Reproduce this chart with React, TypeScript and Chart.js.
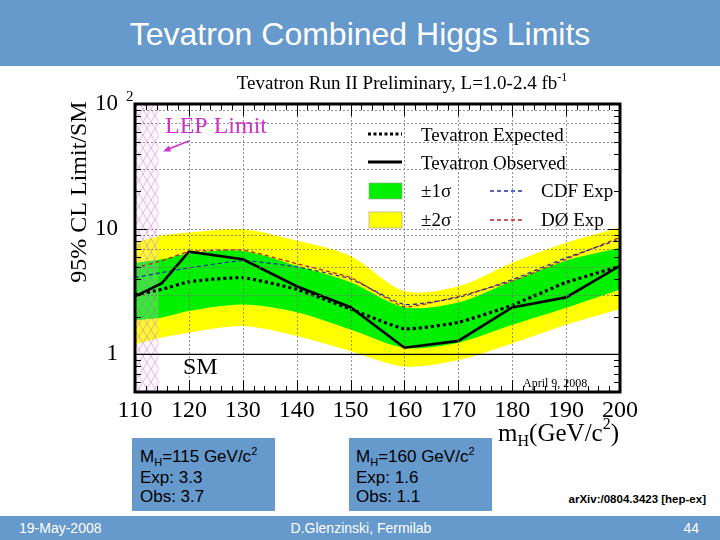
import React, { useEffect, useRef } from 'react';
import { Chart, registerables } from 'chart.js';

Chart.register(...registerables);

// ---------- data ----------
const massPoints = [110, 115, 120, 130, 140, 150, 160, 170, 180, 190, 200];
const observedLimit = [2.9, 3.7, 6.6, 5.75, 3.5, 2.38, 1.13, 1.28, 2.37, 2.85, 5.1];
const expectedLimit = [3.0, 3.3, 3.8, 4.1, 3.3, 2.3, 1.6, 1.8, 2.47, 3.75, 5.05];
const cdfExpected = [4.1, 4.5, 4.9, 5.6, 5.0, 4.0, 2.5, 2.85, 3.95, 5.9, 8.3];
const d0Expected = [4.9, 5.6, 6.6, 6.8, 5.3, 4.1, 2.4, 2.9, 3.85, 5.75, 8.6];
const sigma1Upper = [5.4, 5.75, 6.4, 6.7, 5.1, 3.76, 2.38, 2.6, 3.86, 5.6, 7.1];
const sigma1Lower = [1.87, 1.97, 2.22, 2.5, 2.17, 1.58, 1.13, 1.24, 1.72, 2.36, 3.3];
const sigma2Upper = [7.8, 8.9, 9.4, 10, 8.1, 6.1, 3.2, 3.5, 5.4, 7.8, 10.3];
const sigma2Lower = [1.2, 1.36, 1.49, 1.68, 1.4, 1.06, 0.8, 0.9, 1.22, 1.72, 2.3];
const smLevel = 1;
const lepLimit = 114.4;
const xTickValues = [110, 120, 130, 140, 150, 160, 170, 180, 190, 200];
const yTickValues = [1, 10, 100];
const yGridValues = [3, 5, 7, 9, 10, 30, 50, 70, 90];

const BLUE = '#6699CC';
const SERIF = '"Liberation Serif", "Times New Roman", serif';

const pts = (vals: number[]) => massPoints.map((x, i) => ({ x, y: vals[i] }));

function line(ctx: any, x0: number, y0: number, x1: number, y1: number) {
  ctx.beginPath();
  ctx.moveTo(x0, y0);
  ctx.lineTo(x1, y1);
  ctx.stroke();
}

function drawParts(ctx: any, parts: any[], x: number, baseline: number, align: 'left' | 'right' | 'center') {
  let total = 0;
  parts.forEach((p) => {
    ctx.font = p.f;
    p.w = ctx.measureText(p.t).width;
    total += p.w;
  });
  let cx = align === 'left' ? x : align === 'right' ? x - total : x - total / 2;
  ctx.textAlign = 'left';
  ctx.textBaseline = 'alphabetic';
  parts.forEach((p) => {
    ctx.font = p.f;
    ctx.fillText(p.t, cx, baseline + p.dy);
    cx += p.w;
  });
}

function drawLep(chart: any) {
  const { ctx, chartArea: a, scales } = chart;
  const x0 = scales.x.getPixelForValue(110);
  const x1 = scales.x.getPixelForValue(lepLimit);
  ctx.save();
  ctx.beginPath();
  ctx.rect(x0, a.top, x1 - x0, a.bottom - a.top);
  ctx.clip();
  ctx.fillStyle = 'rgba(250,215,250,0.2)';
  ctx.fillRect(x0, a.top, x1 - x0, a.bottom - a.top);
  ctx.strokeStyle = 'rgba(200,100,200,0.6)';
  ctx.lineWidth = 0.7;
  const w = 8, h = 13;
  for (let y = a.top - 60; y < a.bottom + 60; y += h) {
    line(ctx, x0, y, x0 + 4 * w, y + 4 * h);
    line(ctx, x0, y, x0 + 4 * w, y - 4 * h);
  }
  ctx.restore();
}

const decorPlugin = {
  id: 'decor',
  beforeDatasetDraw(chart: any, args: any) {
    if (args.index === 4) drawLep(chart);
  },
  afterDatasetsDraw(chart: any) {
    const { ctx, chartArea: a, scales } = chart;
    const xs = scales.x, ys = scales.y;
    ctx.save();
    // grid
    ctx.strokeStyle = '#777';
    ctx.lineWidth = 0.8;
    ctx.setLineDash([2, 2]);
    xTickValues.slice(1, -1).forEach((v) => {
      const px = Math.round(xs.getPixelForValue(v)) + 0.5;
      line(ctx, px, a.top, px, a.bottom);
    });
    yGridValues.forEach((v) => {
      const py = Math.round(ys.getPixelForValue(v)) + 0.5;
      line(ctx, a.left, py, a.right, py);
    });
    ctx.setLineDash([]);
    // ticks
    ctx.strokeStyle = '#000';
    ctx.lineWidth = 1;
    for (let v = 110; v <= 200; v += 2) {
      const px = Math.round(xs.getPixelForValue(v)) + 0.5;
      const len = v % 10 === 0 ? 12 : 6;
      line(ctx, px, a.bottom, px, a.bottom - len);
      line(ctx, px, a.top, px, a.top + len);
    }
    for (let e = -1; e <= 1; e++) {
      for (let m = 1; m <= 9; m++) {
        const v = m * Math.pow(10, e);
        if (v < 0.5 || v > 100) continue;
        const py = Math.round(ys.getPixelForValue(v)) + 0.5;
        const len = m === 1 ? 12 : 6;
        line(ctx, a.left, py, a.left + len, py);
        line(ctx, a.right, py, a.right - len, py);
      }
    }
    // frame
    ctx.lineWidth = 3;
    ctx.strokeRect(a.left, a.top, a.right - a.left, a.bottom - a.top);

    // superscript of 10^2 tick label
    ctx.fillStyle = '#000';
    ctx.font = '15px ' + SERIF;
    ctx.textAlign = 'left';
    ctx.textBaseline = 'alphabetic';
    ctx.fillText('2', a.left - 9, ys.getPixelForValue(100) - 3);

    // title
    ctx.fillStyle = '#000';
    drawParts(ctx, [
      { t: 'Tevatron Run II Preliminary, L=1.0-2.4 fb', f: '19px ' + SERIF, dy: 0 },
      { t: '-1', f: '12px ' + SERIF, dy: -8 },
    ], a.left + 267, 89, 'center');

    // y title
    ctx.save();
    ctx.translate(80, a.top + 88);
    ctx.rotate(-Math.PI / 2);
    ctx.font = '24px ' + SERIF;
    ctx.textAlign = 'center';
    ctx.textBaseline = 'middle';
    ctx.fillText('95% CL Limit/SM', 0, 0);
    ctx.restore();

    // x title
    drawParts(ctx, [
      { t: 'm', f: '25px ' + SERIF, dy: 0 },
      { t: 'H', f: '16px ' + SERIF, dy: 5 },
      { t: '(GeV/c', f: '25px ' + SERIF, dy: 0 },
      { t: '2', f: '16px ' + SERIF, dy: -12 },
      { t: ')', f: '25px ' + SERIF, dy: 0 },
    ], a.right - 1, 441, 'right');

    // legend
    const L = a.left, T = a.top;
    ctx.font = '19px ' + SERIF;
    ctx.textAlign = 'left';
    ctx.textBaseline = 'middle';
    ctx.strokeStyle = '#000';
    ctx.lineWidth = 3;
    ctx.setLineDash([3, 2.5]);
    line(ctx, L + 233, T + 30, L + 267, T + 30);
    ctx.setLineDash([]);
    line(ctx, L + 233, T + 58, L + 267, T + 58);
    ctx.fillText('Tevatron Expected', L + 286, T + 32);
    ctx.fillText('Tevatron Observed', L + 286, T + 60);
    ctx.fillStyle = '#00F000';
    ctx.fillRect(L + 234, T + 79, 33, 16);
    ctx.fillStyle = '#FFFF00';
    ctx.fillRect(L + 234, T + 108, 33, 16);
    ctx.lineWidth = 0.6;
    ctx.strokeStyle = '#999';
    ctx.strokeRect(L + 234, T + 79, 33, 16);
    ctx.strokeRect(L + 234, T + 108, 33, 16);
    ctx.fillStyle = '#000';
    ctx.fillText('\u00B11\u03C3', L + 286, T + 88);
    ctx.fillText('\u00B12\u03C3', L + 286, T + 117);
    ctx.lineWidth = 1.3;
    ctx.setLineDash([4, 3]);
    ctx.strokeStyle = '#2233AA';
    line(ctx, L + 355, T + 87, L + 388, T + 87);
    ctx.strokeStyle = '#BB2222';
    line(ctx, L + 355, T + 116, L + 388, T + 116);
    ctx.setLineDash([]);
    ctx.fillText('CDF Exp', L + 406, T + 88);
    ctx.fillText('D\u00D8 Exp', L + 406, T + 117);

    // LEP label + arrow
    ctx.fillStyle = '#CC33CC';
    ctx.strokeStyle = '#CC33CC';
    ctx.font = '24px ' + SERIF;
    ctx.textBaseline = 'middle';
    ctx.fillText('LEP Limit', 165, 127);
    ctx.lineWidth = 1.5;
    line(ctx, 189, 141, 166, 150);
    ctx.beginPath();
    ctx.moveTo(163, 151.5);
    ctx.lineTo(169, 145.5);
    ctx.lineTo(171, 151.5);
    ctx.closePath();
    ctx.fill();

    // SM label
    ctx.fillStyle = '#000';
    ctx.font = '24px ' + SERIF;
    ctx.fillText('SM', 183, 368);
    // date
    ctx.font = '12px ' + SERIF;
    ctx.fillText('April 9, 2008', 523, 384);
    ctx.restore();
  },
};

export default function App() {
  const ref = useRef<HTMLCanvasElement>(null);
  useEffect(() => {
    document.body.style.margin = '0';
    const base = { pointRadius: 0, pointHoverRadius: 0, spanGaps: true };
    const chart = new Chart(ref.current as HTMLCanvasElement, {
      type: 'line',
      data: {
        datasets: [
          { ...base, label: '±2σ', data: pts(sigma2Upper), borderColor: 'transparent', borderWidth: 0, backgroundColor: '#FFFF00', fill: '+1', tension: 0.3, order: 6 },
          { ...base, label: '±2σ low', data: pts(sigma2Lower), borderColor: 'transparent', borderWidth: 0, fill: false, tension: 0.3, order: 6 },
          { ...base, label: '±1σ', data: pts(sigma1Upper), borderColor: 'transparent', borderWidth: 0, backgroundColor: '#00F000', fill: '+1', tension: 0.3, order: 5 },
          { ...base, label: '±1σ low', data: pts(sigma1Lower), borderColor: 'transparent', borderWidth: 0, fill: false, tension: 0.3, order: 5 },
          { ...base, label: 'DØ Exp', data: pts(d0Expected), borderColor: '#BB2222', borderWidth: 1.3, borderDash: [4, 3], fill: false, tension: 0.15, order: 4 },
          { ...base, label: 'CDF Exp', data: pts(cdfExpected), borderColor: '#2233AA', borderWidth: 1.3, borderDash: [4, 3], fill: false, tension: 0.15, order: 3 },
          { ...base, label: 'Tevatron Expected', data: pts(expectedLimit), borderColor: '#000', borderWidth: 3.2, borderDash: [3, 3], fill: false, tension: 0.15, order: 2 },
          { ...base, label: 'Tevatron Observed', data: pts(observedLimit), borderColor: '#000', borderWidth: 2.6, fill: false, tension: 0, order: 1 },
          { ...base, label: 'SM', data: [{ x: 110, y: smLevel }, { x: 200, y: smLevel }], borderColor: '#000', borderWidth: 1.3, fill: false, order: 0 },
        ],
      },
      options: {
        responsive: false,
        animation: false,
        devicePixelRatio: 1,
        events: [],
        layout: { padding: { left: 60, right: 100, top: 104, bottom: 108 } },
        plugins: { legend: { display: false }, tooltip: { enabled: false }, title: { display: false } },
        scales: {
          x: {
            type: 'linear',
            min: 110,
            max: 200,
            afterBuildTicks: (s: any) => { s.ticks = xTickValues.map((v) => ({ value: v })); },
            afterFit: (s: any) => { s.height = 40; },
            grid: { display: false, drawTicks: false },
            border: { display: false },
            ticks: { color: '#000', font: { family: SERIF, size: 24 }, padding: 4, maxRotation: 0, autoSkip: false },
          },
          y: {
            type: 'logarithmic',
            min: 0.5,
            max: 100,
            afterBuildTicks: (s: any) => { s.ticks = yTickValues.map((v) => ({ value: v })); },
            afterFit: (s: any) => { s.width = 75; },
            grid: { display: false, drawTicks: false },
            border: { display: false },
            ticks: {
              color: '#000',
              font: { family: SERIF, size: 23 },
              padding: 17,
              autoSkip: false,
              callback: (v: any) => (Number(v) === 100 ? '10' : String(v)),
            },
          },
        },
      } as any,
      plugins: [decorPlugin],
    });
    return () => chart.destroy();
  }, []);

  const boxText = { position: 'absolute' as const, fontSize: 17, lineHeight: '20px', color: '#000', whiteSpace: 'nowrap' as const };
  const sub = { fontSize: 11, position: 'relative' as const, top: 4 };
  const sup = { fontSize: 11, position: 'relative' as const, top: -7 };
  const foot = { position: 'absolute' as const, top: 520, fontSize: 14, lineHeight: '16px', color: '#fff' };

  return (
    <div style={{ position: 'relative', width: 720, height: 540, background: '#fff', overflow: 'hidden', fontFamily: '"Liberation Sans", Arial, sans-serif' }}>
      <div style={{ position: 'absolute', left: 0, top: 0, width: 720, height: 66, background: BLUE }} />
      <div style={{ position: 'absolute', left: 0, top: 15, width: 720, textAlign: 'center', color: '#fff', fontSize: 32, lineHeight: '38px' }}>
        Tevatron Combined Higgs Limits
      </div>

      <div style={{ position: 'absolute', left: 132, top: 438, width: 143, height: 73, background: BLUE }} />
      <div style={{ ...boxText, left: 140, top: 447 }}>M<span style={sub}>H</span>=115 GeV/c<span style={sup}>2</span></div>
      <div style={{ ...boxText, left: 140, top: 468 }}>Exp: 3.3</div>
      <div style={{ ...boxText, left: 140, top: 487 }}>Obs: 3.7</div>

      <div style={{ position: 'absolute', left: 349, top: 438, width: 143, height: 73, background: BLUE }} />
      <div style={{ ...boxText, left: 356, top: 447 }}>M<span style={sub}>H</span>=160 GeV/c<span style={sup}>2</span></div>
      <div style={{ ...boxText, left: 356, top: 468 }}>Exp: 1.6</div>
      <div style={{ ...boxText, left: 356, top: 487 }}>Obs: 1.1</div>

      <div style={{ position: 'absolute', right: 14, top: 491, fontSize: 11.5, fontWeight: 'bold', lineHeight: '16px', color: '#000' }}>
        arXiv:/0804.3423 [hep-ex]
      </div>

      <div style={{ position: 'absolute', left: 0, top: 516, width: 720, height: 24, background: BLUE }} />
      <div style={{ ...foot, left: 19 }}>19-May-2008</div>
      <div style={{ ...foot, left: 0, width: 722, textAlign: 'center' }}>D.Glenzinski, Fermilab</div>
      <div style={{ ...foot, right: 21 }}>44</div>

      <canvas ref={ref} width={720} height={540} style={{ position: 'absolute', left: 0, top: 0, width: 720, height: 540 }} />
    </div>
  );
}
